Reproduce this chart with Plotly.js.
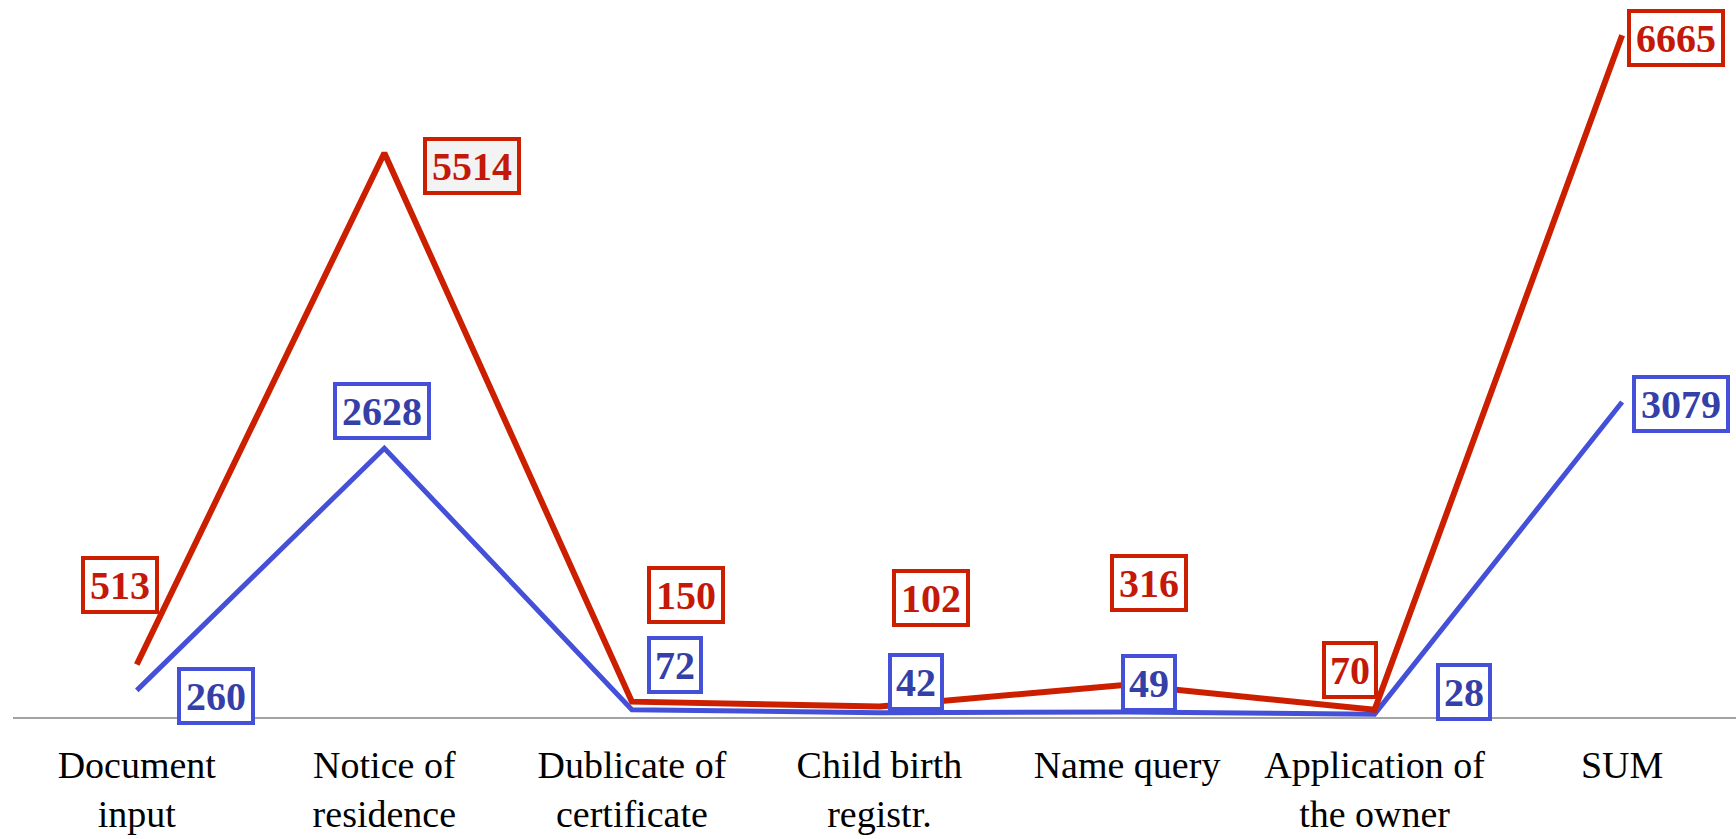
<!DOCTYPE html>
<html>
<head>
<meta charset="utf-8">
<script src="https://cdn.plot.ly/plotly-3.0.1.min.js"></script>
<style>
  html, body { margin: 0; padding: 0; background: #ffffff; }
  #chart { width: 1736px; height: 839px; }
</style>
</head>
<body>
<div id="chart"></div>
<script>
// ---- data ----
const categories = [
  "Document<br>input",
  "Notice of<br>residence",
  "Dublicate of<br>certificate",
  "Child birth<br>registr.",
  "Name query",
  "Application of<br>the owner",
  "SUM"
];
const redValues  = [513, 5514, 150, 102, 316, 70, 6665];
const blueValues = [260, 2628, 72, 42, 49, 28, 3079];

// ---- styles ----
const RED_LINE = "#cc1f00";
const RED_TEXT = "#c41808";
const BLUE_LINE = "#4450d8";
const BLUE_TEXT = "#3440a8";

// label offsets in pixels (box centre relative to point)
const redOffsets  = [[-17,-80],[88,13],[54,-107],[52,-109],[22,-102],[-25,-40],[54,3]];
const blueOffsets = [[79,6],[-2,-37],[43,-45],[37,-31],[22,-29],[89,-22],[59,2]];

function boxWidth(v) {
  const n = String(v).length;
  return n === 2 ? 44 : n === 3 ? 66 : 86;
}

const annotations = [];
function addLabels(values, offsets, lineColor, textColor, bgFn) {
  values.forEach((v, i) => {
    annotations.push({
      x: i, y: v, xref: "x", yref: "y",
      text: String(v),
      showarrow: true,
      arrowcolor: "rgba(0,0,0,0)",
      arrowwidth: 0.1,
      arrowhead: 0,
      ax: offsets[i][0], ay: offsets[i][1],
      font: { family: "Liberation Serif, Times New Roman, serif", size: 40, color: textColor, weight: "bold" },
      bgcolor: bgFn(i),
      bordercolor: lineColor,
      borderwidth: 4,
      borderpad: 2,
      width: boxWidth(v),
      height: 46,
      align: "center",
      valign: "middle"
    });
  });
}
addLabels(blueValues, blueOffsets, BLUE_LINE, BLUE_TEXT, () => "#ffffff");
addLabels(redValues, redOffsets, RED_LINE, RED_TEXT, (i) => i === 1 ? "#f3f3f3" : "#ffffff");

const traces = [
  {
    x: categories.map((c, i) => i), y: blueValues,
    type: "scatter", mode: "lines",
    line: { color: BLUE_LINE, width: 5 },
    hoverinfo: "skip", cliponaxis: false
  },
  {
    x: categories.map((c, i) => i), y: redValues,
    type: "scatter", mode: "lines",
    line: { color: RED_LINE, width: 6 },
    hoverinfo: "skip", cliponaxis: false
  }
];

const layout = {
  width: 1736, height: 839,
  margin: { l: 13, r: 0, t: 1, b: 122 },
  paper_bgcolor: "#ffffff",
  plot_bgcolor: "#ffffff",
  showlegend: false,
  xaxis: {
    type: "linear",
    range: [-0.5, 6.46],
    tickmode: "array",
    tickvals: categories.map((c, i) => i),
    ticktext: categories,
    showgrid: false, zeroline: false,
    showline: true, linecolor: "#a3a3a3", linewidth: 2,
    ticks: "",
    ticklabelstandoff: 13,
    tickfont: { family: "Liberation Serif, Times New Roman, serif", size: 38, color: "#000000" },
    fixedrange: true
  },
  yaxis: {
    range: [0, 7000],
    visible: false,
    showgrid: false, zeroline: false,
    fixedrange: true
  },
  annotations: annotations
};

Plotly.newPlot("chart", traces, layout, { staticPlot: true, displayModeBar: false });
</script>
</body>
</html>
